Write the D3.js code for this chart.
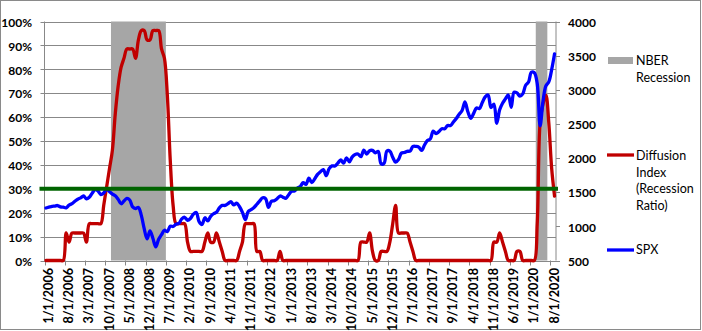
<!DOCTYPE html>
<html><head><meta charset="utf-8">
<script src="https://cdn.jsdelivr.net/npm/d3@7"></script>
<style>body{margin:0;background:#fff}svg{display:block}</style>
</head><body>
<svg id="c" width="702" height="331"></svg>
<script>
// ---- DATA ----
const categories = d3.range(177).map(i => `${(i % 12) + 1}/1/${2006 + Math.floor(i / 12)}`);
const tickLabels = ["1/1/2006","8/1/2006","3/1/2007","10/1/2007","5/1/2008","12/1/2008","7/1/2009","2/1/2010","9/1/2010","4/1/2011","11/1/2011","6/1/2012","1/1/2013","8/1/2013","3/1/2014","10/1/2014","5/1/2015","12/1/2015","7/1/2016","2/1/2017","9/1/2017","4/1/2018","11/1/2018","6/1/2019","1/1/2020","8/1/2020"];
const diffusion = [
 0,0,0,0,0,0,0,11.5,7.7,11.5,11.5,11.5,
 11.5,11.5,7.7,15.4,15.4,15.4,15.4,15.4,23.1,30.8,38.5,46.2,
 61.5,73.1,80.8,84.6,88.5,88.5,88.5,84.6,92.3,96.2,96.2,92.3,
 92.3,96.2,96.2,96.2,88.5,84.6,69.2,42.3,23.1,15.4,15.4,15.4,
 15.4,7.7,3.8,3.8,3.8,3.8,3.8,7.7,11.5,7.7,7.7,11.5,
 7.7,3.8,0,0,0,0,0,3.8,7.7,15.4,15.4,15.4,
 15.4,3.8,3.8,0,0,0,0,0,0,3.8,0,0,
 0,0,0,0,0,0,0,0,0,0,0,0,
 0,0,0,0,0,0,0,0,0,0,0,0,
 0,7.7,7.7,7.7,11.5,3.8,0,0,3.8,3.8,3.8,7.7,
 15.4,23.1,11.5,11.5,11.5,11.5,7.7,3.8,0,0,0,0,
 0,0,0,0,0,0,0,0,0,0,0,0,
 0,0,0,0,0,0,0,0,0,0,0,7.7,
 7.7,11.5,7.7,3.8,0,0,0,3.8,3.8,0,0,0,
 0,0,15.4,57.7,65.4,69.2,57.7,38.5,26.9
];
const spx = [
 1268.8,1282.5,1291.2,1297.8,1305.2,1285.7,1280.2,1270.9,1311.0,1331.3,1367.8,1396.7,
 1416.6,1445.9,1403.2,1424.6,1486.3,1536.3,1519.4,1465.8,1489.4,1547.0,1508.4,1472.4,
 1447.2,1395.4,1331.3,1370.2,1409.3,1385.7,1284.9,1260.3,1277.6,1161.1,966.3,816.2,
 931.8,825.4,700.8,811.1,877.5,942.9,923.3,1002.6,998.0,1029.9,1042.9,1108.9,
 1133.0,1089.2,1115.7,1178.1,1202.3,1070.7,1027.4,1125.9,1080.3,1146.2,1184.4,1206.1,
 1271.9,1307.6,1306.3,1332.4,1361.2,1314.6,1339.7,1286.9,1204.4,1099.2,1218.3,1244.6,
 1277.1,1324.1,1374.1,1419.0,1405.8,1278.0,1365.5,1375.1,1404.9,1444.5,1427.6,1409.5,
 1462.4,1513.2,1518.2,1562.2,1582.7,1640.4,1615.0,1706.9,1639.8,1695.0,1761.6,1800.9,
 1832.0,1741.9,1845.7,1885.5,1883.7,1925.0,1973.3,1925.2,2002.3,1946.2,2017.8,2053.4,
 2058.2,2020.9,2117.4,2059.7,2108.3,2111.7,2077.4,2098.0,1913.9,1923.8,2104.1,2102.6,
 2012.7,1939.4,1978.4,2072.8,2081.4,2099.3,2103.0,2170.8,2170.9,2161.2,2111.7,2191.1,
 2257.8,2279.6,2396.0,2358.8,2388.3,2430.1,2429.0,2476.4,2476.6,2529.1,2579.4,2642.2,
 2695.8,2822.0,2677.7,2581.9,2654.8,2734.6,2726.7,2813.4,2896.7,2924.6,2740.4,2790.4,
 2510.0,2706.5,2803.7,2867.2,2923.7,2744.5,2964.3,2953.6,2906.3,2940.3,3066.9,3113.9,
 3257.9,3248.9,3090.2,2470.5,2830.7,3055.7,3115.9,3294.6,3526.7
];
const recessions = [["12/1/2007","6/1/2009"],["3/1/2020","6/1/2020"]];
const threshold = [30];
const leftTicks = [0,10,20,30,40,50,60,70,80,90,100];
const rightTicks = [500,1000,1500,2000,2500,3000,3500,4000];
const legendItems = [
  {key:"rec", lines:["NBER","Recession"]},
  {key:"diff", lines:["Diffusion","Index","(Recession","Ratio)"]},
  {key:"spx", lines:["SPX"]}
];

// ---- DRAW ----
const svg = d3.select("#c");
const L = 44.5, R = 556, T = 21.5, B = 260.5;
const C = {grid:"#888888", rec:"#A6A6A6", diff:"#C00000", spx:"#0000FF", thr:"#006400"};
const FONT = "Lato, 'Open Sans', sans-serif";

svg.append("rect").attr("x",0.5).attr("y",0.5).attr("width",700).attr("height",329)
  .attr("fill","#fff").attr("stroke","#8a8a8a");

const x = d3.scaleBand().domain(categories).range([L, R]).padding(0);
const cx = d => x(d) + x.bandwidth() / 2;
const yL = d3.scaleLinear().domain([0, 100]).range([B, T]);
const yR = d3.scaleLinear().domain([500, 4000]).range([B, T]);

// gridlines
svg.append("g").selectAll("line").data(leftTicks).join("line")
  .attr("x1", L - 4).attr("x2", R).attr("y1", d => Math.round(yL(d)) + 0.5).attr("y2", d => Math.round(yL(d)) + 0.5)
  .attr("stroke", C.grid).attr("stroke-width", 1);

// recession bars
svg.append("g").selectAll("rect").data(recessions).join("rect")
  .attr("x", d => x(d[0]))
  .attr("width", d => x(d[1]) + x.bandwidth() - x(d[0]))
  .attr("y", yL(100)).attr("height", yL(0) - yL(100))
  .attr("fill", C.rec);

// axes lines
svg.append("line").attr("x1", L).attr("x2", L).attr("y1", T).attr("y2", B).attr("stroke", C.grid);
svg.append("line").attr("x1", R).attr("x2", R).attr("y1", T).attr("y2", B).attr("stroke", C.grid);

// right ticks
svg.append("g").selectAll("line").data(rightTicks).join("line")
  .attr("x1", R).attr("x2", R + 4).attr("y1", d => Math.round(yR(d)) + 0.5).attr("y2", d => Math.round(yR(d)) + 0.5)
  .attr("stroke", C.grid);

// bottom ticks
svg.append("g").selectAll("line").data(tickLabels).join("line")
  .attr("x1", d => Math.round(x(d)) + 0.5).attr("x2", d => Math.round(x(d)) + 0.5)
  .attr("y1", B).attr("y2", B + 5).attr("stroke", C.grid);

// left labels
svg.append("g").selectAll("text").data(leftTicks).join("text")
  .attr("x", 32).attr("y", d => yL(d) + 1).attr("dy", "0.35em")
  .attr("text-anchor", "end").attr("font-family", FONT).attr("font-weight", "bold").attr("font-size", 12)
  .text(d => d + "%");

// right labels
svg.append("g").selectAll("text").data(rightTicks).join("text")
  .attr("x", 568).attr("y", d => yR(d) + 1).attr("dy", "0.35em")
  .attr("text-anchor", "start").attr("font-family", FONT).attr("font-weight", "bold").attr("font-size", 12)
  .text(d => d);

// x labels
svg.append("g").selectAll("text").data(tickLabels).join("text")
  .attr("transform", d => `translate(${cx(d) + 2.5},268) rotate(-90)`)
  .attr("dy", "0.35em").attr("text-anchor", "end")
  .attr("font-family", FONT).attr("font-weight", "bold").attr("font-size", 12.6)
  .text(d => d);

// diffusion line
const lineL = d3.line().x((d, i) => cx(categories[i])).y(d => yL(d)).curve(d3.curveCatmullRom.alpha(0.5));
svg.append("path").datum(diffusion).attr("d", lineL)
  .attr("fill", "none").attr("stroke", C.diff).attr("stroke-width", 3.3).attr("stroke-linejoin", "round").attr("stroke-linecap", "round");

// spx line
const lineR = d3.line().x((d, i) => cx(categories[i])).y(d => yR(d)).curve(d3.curveCatmullRom.alpha(0.5));
svg.append("path").datum(spx).attr("d", lineR)
  .attr("fill", "none").attr("stroke", C.spx).attr("stroke-width", 3.3).attr("stroke-linejoin", "round").attr("stroke-linecap", "round");

// threshold line
svg.append("g").selectAll("line").data(threshold).join("line")
  .attr("x1", L - 5).attr("x2", R + 2).attr("y1", d => yL(d)).attr("y2", d => yL(d))
  .attr("stroke", C.thr).attr("stroke-width", 4);

// legend
const lg = svg.append("g").attr("font-family", FONT).attr("font-size", 12.5);
lg.append("rect").attr("x", 608).attr("y", 57).attr("width", 25).attr("height", 7).attr("fill", C.rec);
const legendPos = {rec: 61, diff: 156, spx: 250};
lg.append("line").attr("x1", 607).attr("x2", 634).attr("y1", 155).attr("y2", 155).attr("stroke", C.diff).attr("stroke-width", 3.3);
lg.append("line").attr("x1", 607).attr("x2", 634).attr("y1", 250).attr("y2", 250).attr("stroke", C.spx).attr("stroke-width", 3.3);
legendItems.forEach(it => {
  it.lines.forEach((t, j) => {
    lg.append("text").attr("x", 636).attr("y", legendPos[it.key] + j * 16.4).attr("dy", "0.35em").text(t);
  });
});
</script>
</body></html>
